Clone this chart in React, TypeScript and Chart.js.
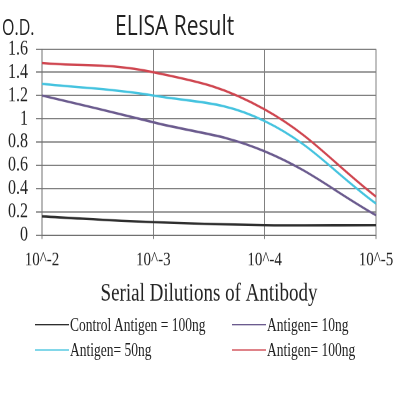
import React, { useEffect, useRef } from 'react'
import { Chart, registerables } from 'chart.js'

Chart.register(...registerables)

// x categories (antibody dilution)
const dilutions = ['10^-2', '10^-3', '10^-4', '10^-5']

// O.D. values
const controlAntigen100 = [0.16, 0.11, 0.085, 0.085]
const antigen10 = [1.2, 0.97, 0.72, 0.17]
const antigen50 = [1.3, 1.2, 0.98, 0.27]
const antigen100 = [1.48, 1.4, 1.08, 0.33]

const seriesLabels = ['Control Antigen = 100ng', 'Antigen= 10ng', 'Antigen= 50ng', 'Antigen= 100ng']
const seriesColors = ['#2e2e2e', '#6b5b8e', '#45c3df', '#cf4650']

const SERIF = '"Liberation Serif", "Times New Roman", serif'
const SANS = '"Open Sans", "Noto Sans", sans-serif'

// the source image is stretched vertically, so everything is laid out at 400x300 and scaled
const STRETCH = 400 / 300

function LegendItem({ label, color, left, top }: { label: string; color: string; left: number; top: number }) {
  return (
    <div style={{ position: 'absolute', left, top, display: 'flex', alignItems: 'center', height: 16 }}>
      <div style={{ width: 34, height: 1.2, background: color }} />
      <span style={{ fontFamily: SERIF, fontSize: 13.5, color: '#222', marginLeft: 1, whiteSpace: 'nowrap', lineHeight: 1 }}>{label}</span>
    </div>
  )
}

export default function App() {
  const canvasRef = useRef<HTMLCanvasElement>(null)
  const chartRef = useRef<Chart | null>(null)

  useEffect(() => {
    if (!canvasRef.current) return
    const ctx = canvasRef.current.getContext('2d')
    if (!ctx) return

    const values = [controlAntigen100, antigen10, antigen50, antigen100]

    chartRef.current = new Chart(ctx, {
      type: 'line',
      data: {
        labels: dilutions,
        datasets: values.map((data, i) => ({
          label: seriesLabels[i],
          data,
          borderColor: seriesColors[i],
          backgroundColor: seriesColors[i],
          borderWidth: 1.8,
          pointRadius: 0,
          tension: 0.4,
          fill: false,
        })),
      },
      options: {
        responsive: false,
        devicePixelRatio: 2,
        animation: false,
        layout: { padding: { top: 36.75, right: 23, left: 0, bottom: 0 } },
        plugins: {
          legend: { display: false },
          title: { display: false },
          tooltip: { enabled: false },
        },
        scales: {
          x: {
            type: 'category',
            offset: false,
            grid: { color: '#808080', lineWidth: 1, tickLength: 3, offset: false },
            border: { color: '#707070', width: 1 },
            ticks: {
              color: '#222',
              font: { family: SERIF, size: 15 },
              padding: 6.75,
              maxRotation: 0,
              autoSkip: false,
            },
            title: {
              display: true,
              text: 'Serial Dilutions of Antibody',
              color: '#222',
              font: { family: SERIF, size: 19 },
              padding: { top: 0, bottom: 3 },
            },
            afterFit: (scale: any) => { scale.height = 58.75 },
          },
          y: {
            min: 0,
            max: 1.6,
            grid: { color: '#808080', lineWidth: 1, tickLength: 6 },
            border: { color: '#707070', width: 1 },
            ticks: {
              stepSize: 0.2,
              autoSkip: false,
              color: '#222',
              font: { family: SERIF, size: 16, lineHeight: 1 },
              padding: 8,
              callback: (v: any) => String(+Number(v).toFixed(1)),
            },
            afterFit: (scale: any) => { scale.width = 42 },
          },
        },
      },
    })

    return () => {
      if (chartRef.current) { chartRef.current.destroy(); chartRef.current = null }
    }
  }, [])

  return (
    <div style={{ position: 'fixed', left: 0, top: 0, width: 400, height: 400, background: '#fff', overflow: 'hidden' }}>
      <div style={{ position: 'absolute', left: 0, top: 0, width: 400, height: 300, transform: `scaleY(${STRETCH})`, transformOrigin: '0 0' }}>
        <canvas ref={canvasRef} width={400} height={235} style={{ position: 'absolute', left: 0, top: 0, width: 400, height: 235 }} />
        <div style={{ position: 'absolute', left: 2, top: 12, fontFamily: SANS, fontSize: 16, lineHeight: 1, color: '#222', whiteSpace: 'nowrap' }}>O.D.</div>
        <div style={{ position: 'absolute', left: 115, top: 7.5, fontFamily: SANS, fontSize: 21, lineHeight: 1, color: '#222', whiteSpace: 'nowrap' }}>ELISA Result</div>

        <LegendItem label={seriesLabels[0]} color={seriesColors[0]} left={35} top={235.75} />
        <LegendItem label={seriesLabels[1]} color={seriesColors[1]} left={232} top={235.75} />
        <LegendItem label={seriesLabels[2]} color={seriesColors[2]} left={35} top={254.5} />
        <LegendItem label={seriesLabels[3]} color={seriesColors[3]} left={232} top={254.5} />
      </div>
    </div>
  )
}
